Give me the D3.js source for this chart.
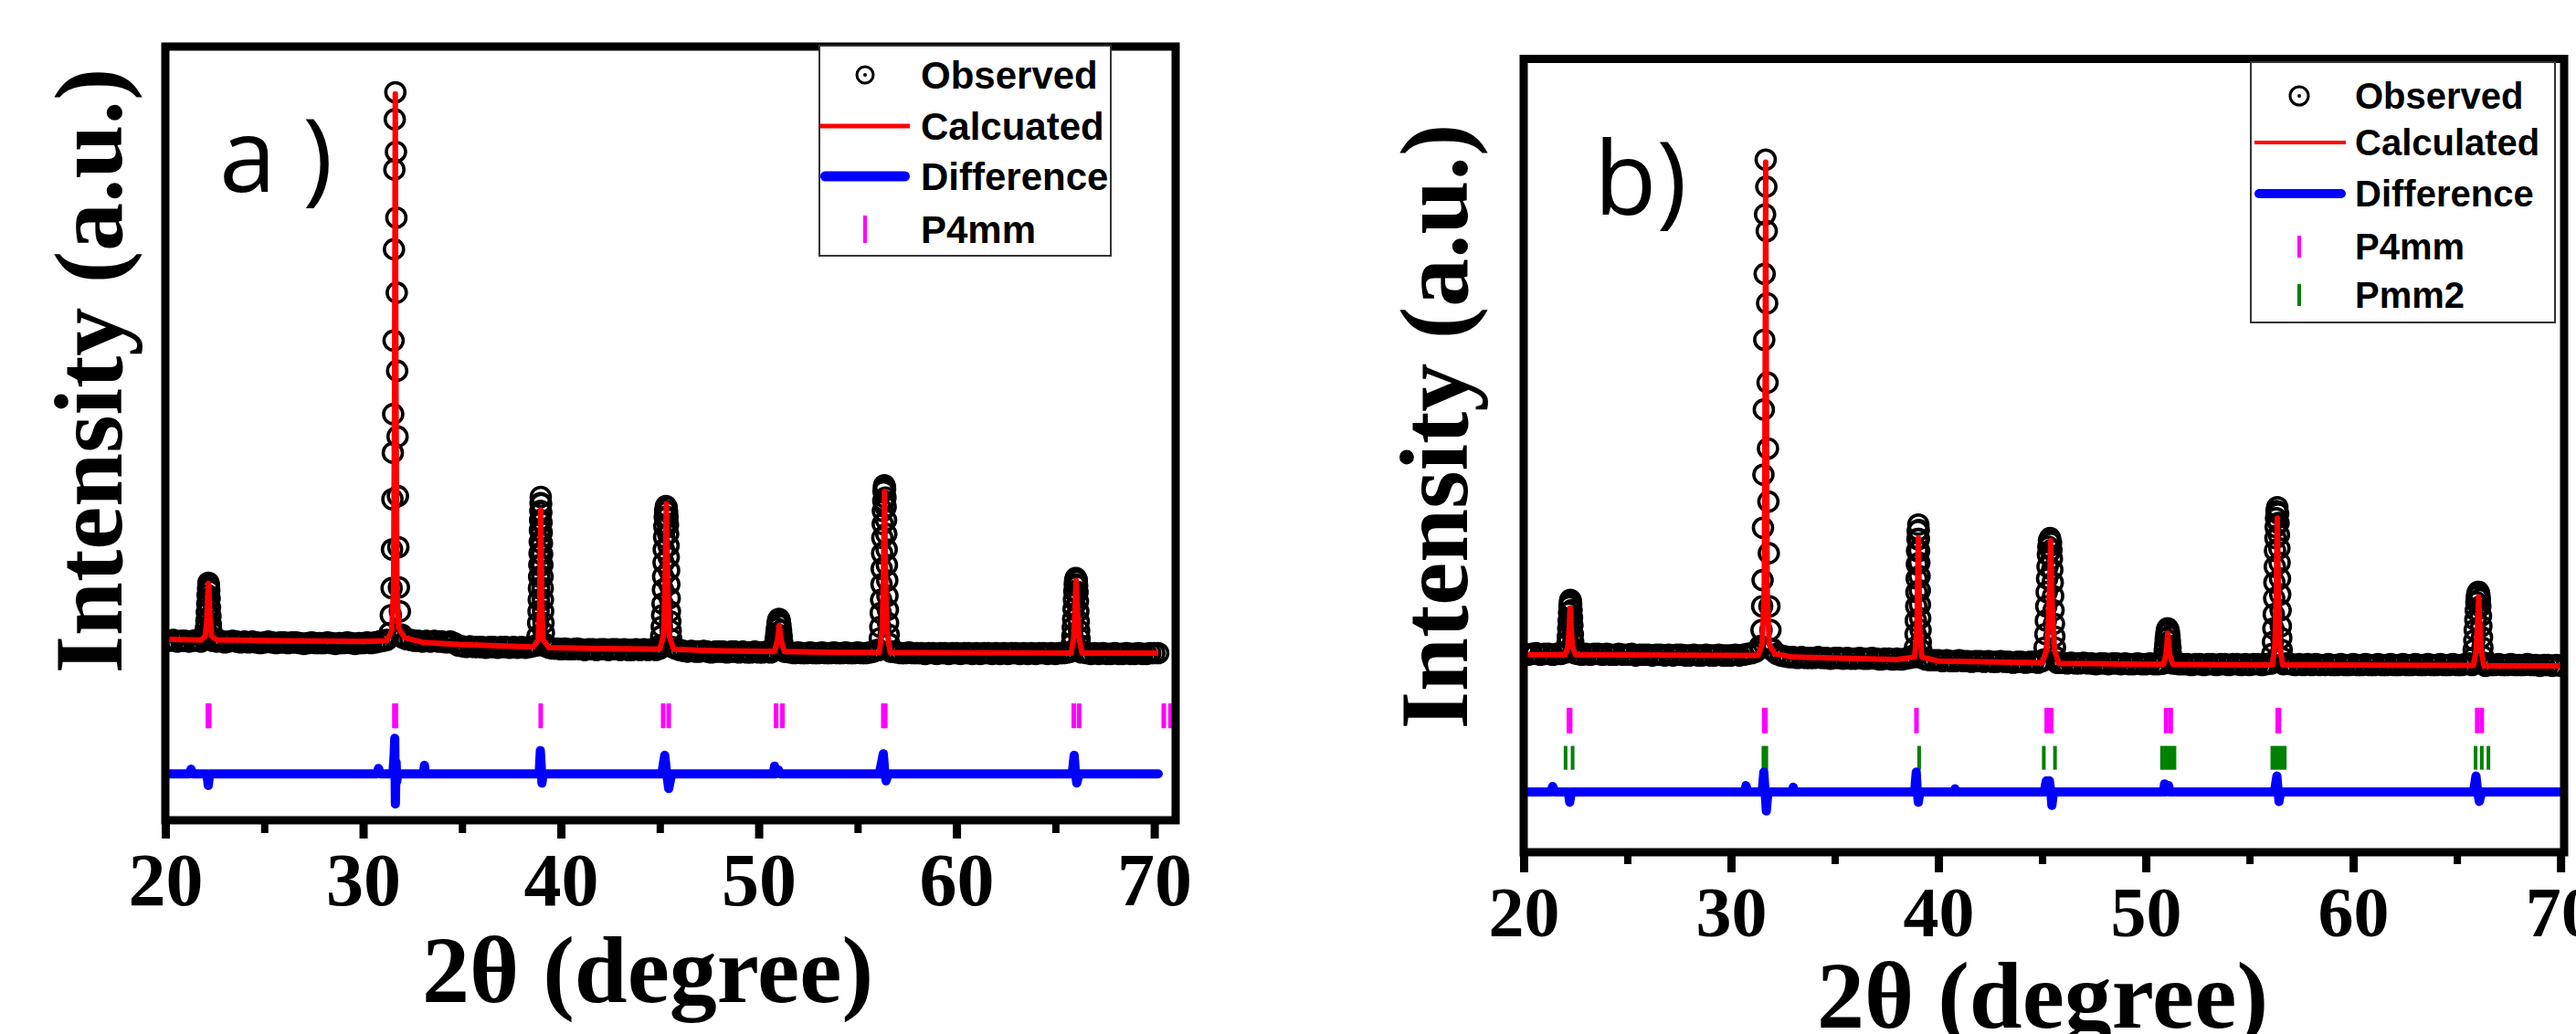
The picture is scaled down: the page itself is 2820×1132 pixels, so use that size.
<!DOCTYPE html>
<html lang="en">
<head>
<meta charset="utf-8">
<title>Rietveld refinement, P4mm / Pmm2</title>
<script src="https://d3js.org/d3.v7.min.js"></script>
<style>
  body { margin: 0; background: #fff; }
  svg { display: block; }
</style>
</head>
<body>
<script>
// ---------- data (intensity in a.u., 0-100 = frame height) ----------
var scanStart = 20.0, scanStep = 0.2;          // observed scan grid away from the peaks
var xTicks = [20, 30, 40, 50, 60, 70];
var xMinorTicks = [25, 35, 45, 55, 65];
var legendA = ["Observed", "Calcuated", "Difference", "P4mm"];
var legendB = ["Observed", "Calculated", "Difference", "P4mm", "Pmm2"];

// panel a) observed background, 20.0 .. 70.2
var obsBgA = [
  23.3,23.2,23.3,23.1,23.2,23.2,23.1,23.2,23.3,23.1,
  23.2,23.2,23.2,23.1,23.2,23.0,23.1,23.2,23.1,23.0,
  23.1,23.0,23.1,23.0,22.9,23.0,23.1,23.0,22.9,23.0,
  23.0,22.9,23.0,23.0,22.9,22.8,22.9,23.0,22.9,22.9,
  22.9,23.0,22.9,22.8,22.9,22.9,23.0,22.9,22.8,22.9,
  22.9,23.0,22.9,23.0,23.1,23.2,23.3,23.6,23.6,23.6,
  23.6,23.4,23.3,23.2,23.2,23.1,23.2,23.1,23.2,23.1,
  23.1,23.0,23.1,22.9,22.6,22.5,22.4,22.5,22.4,22.4,
  22.4,22.3,22.4,22.4,22.3,22.4,22.4,22.3,22.4,22.3,
  22.4,22.3,22.4,22.5,22.6,22.6,22.5,22.3,22.2,22.2,
  22.1,22.2,22.1,22.1,22.2,22.1,22.0,22.1,22.1,22.0,
  22.1,22.1,22.0,22.1,22.1,22.0,22.1,22.0,22.0,22.1,
  22.0,22.1,22.0,22.1,22.0,22.2,22.5,22.5,22.5,22.2,
  22.0,21.9,21.8,21.9,21.8,21.8,21.9,21.8,21.7,21.8,
  21.8,21.8,21.7,21.8,21.8,21.7,21.8,21.7,21.7,21.8,
  21.7,21.7,21.8,21.7,21.9,22.0,22.0,21.8,21.7,21.6,
  21.7,21.6,21.6,21.7,21.6,21.6,21.7,21.6,21.6,21.7,
  21.6,21.6,21.7,21.6,21.6,21.7,21.6,21.6,21.7,21.8,
  22.0,22.0,22.0,22.0,21.8,21.7,21.6,21.6,21.7,21.6,
  21.6,21.6,21.5,21.6,21.6,21.5,21.6,21.6,21.5,21.6,
  21.6,21.5,21.6,21.6,21.5,21.6,21.5,21.6,21.6,21.5,
  21.6,21.5,21.6,21.5,21.6,21.6,21.5,21.6,21.5,21.6,
  21.5,21.6,21.6,21.5,21.6,21.5,21.6,21.6,21.7,21.9,
  22.0,22.0,21.8,21.6,21.5,21.6,21.5,21.6,21.5,21.5,
  21.6,21.5,21.5,21.6,21.5,21.5,21.6,21.5,21.5,21.6,
  21.6,21.6
];
// panel a) observed points on each peak [2theta, I]
var obsPeaksA = [
  [[21.98,23.4],[22.02,24.0],[22.05,24.8],[22.08,25.8],[22.10,26.9],[22.12,28.0],[22.14,29.1],[22.16,30.0],[22.18,30.7],[22.20,30.4],[22.22,29.7],
   [22.24,28.7],[22.26,27.5],[22.28,26.4],[22.30,25.3],[22.33,24.4],[22.37,23.6]],
  [[31.34,24.2],[31.40,26.5],[31.44,30.0],[31.46,35.0],[31.48,41.5],[31.50,47.5],[31.52,52.5],[31.54,62.0],[31.56,73.8],[31.58,84.1],[31.60,90.6],[31.63,94.1],
   [31.66,86.4],[31.68,77.9],[31.70,68.2],[31.72,58.1],[31.74,49.6],[31.76,41.9],[31.78,35.3],[31.81,30.1],[31.86,27.0],[31.95,24.0]],
  [[38.78,22.6],[38.82,23.8],[38.85,25.5],[38.87,27.0],[38.88,28.5],[38.89,30.0],[38.90,31.5],[38.91,33.0],[38.92,34.5],[38.93,36.0],[38.94,37.5],[38.95,38.8],
   [38.96,40.0],[38.97,41.0],[38.98,41.8],[39.00,40.9],[39.01,39.8],[39.02,38.5],[39.03,37.2],[39.04,35.8],[39.05,34.4],[39.06,33.0],[39.07,31.5],[39.08,30.0],
   [39.09,28.5],[39.10,27.0],[39.12,25.5],[39.14,24.2],[39.18,22.8]],
  [[45.03,22.6],[45.07,23.8],[45.10,25.0],[45.12,26.5],[45.14,28.0],[45.16,29.8],[45.17,31.5],[45.19,33.3],[45.20,35.0],[45.22,36.6],[45.23,38.0],[45.25,39.2],
   [45.27,40.0],[45.31,40.6],[45.35,40.4],[45.37,39.9],[45.39,39.2],[45.41,38.2],[45.42,37.0],[45.44,35.5],[45.45,34.0],[45.47,32.3],[45.48,30.5],[45.50,28.7],
   [45.51,27.0],[45.53,25.7],[45.55,24.5],[45.58,23.4],[45.63,22.4]],
  [[50.76,21.9],[50.82,22.6],[50.86,23.4],[50.89,24.1],[50.92,24.8],[50.95,25.4],[50.98,25.8],[51.01,26.0],[51.04,26.0],[51.07,25.7],[51.10,25.2],
   [51.13,24.5],[51.16,23.8],[51.19,23.0],[51.23,22.3],[51.29,21.8]],
  [[56.08,22.0],[56.12,23.5],[56.15,25.0],[56.17,26.8],[56.19,28.5],[56.21,30.5],[56.22,32.5],[56.24,34.5],[56.25,36.5],[56.27,38.3],[56.28,40.0],[56.30,41.3],
   [56.31,42.5],[56.33,43.1],[56.35,43.3],[56.37,43.2],[56.39,42.8],[56.41,41.7],[56.42,40.5],[56.44,38.8],[56.45,37.0],[56.47,35.0],[56.48,33.0],[56.50,31.0],
   [56.51,29.0],[56.53,27.2],[56.54,25.5],[56.57,24.0],[56.60,22.8],[56.66,21.8]],
  [[65.78,21.8],[65.83,22.8],[65.86,23.8],[65.88,24.9],[65.90,26.0],[65.92,27.3],[65.94,28.5],[65.96,29.6],[65.98,30.5],[66.00,31.0],[66.03,31.3],[66.06,31.2],
   [66.08,31.0],[66.10,30.3],[66.12,29.5],[66.14,28.3],[66.16,27.0],[66.18,25.7],[66.20,24.5],[66.22,23.5],[66.25,22.6],[66.32,21.7]]
];
var calcA = [
  [20.0,23.4],[21.8,23.3],[22.02,23.8],[22.1,26.0],[22.15,29.5],[22.18,30.6],[22.21,29.5],[22.26,26.0],[22.34,23.8],[22.6,23.3],
  [26.0,23.2],[30.0,23.1],[31.2,23.2],[31.45,24.5],[31.54,30.0],[31.59,55.0],[31.625,93.9],[31.66,55.0],[31.71,30.0],[31.8,24.8],[32.1,23.6],
  [33.0,23.0],[35.0,22.7],[38.6,22.4],[38.85,23.3],[38.93,28.0],[38.98,40.1],[39.03,28.0],[39.1,23.3],[39.4,22.3],
  [42.0,22.2],[45.0,22.1],[45.18,23.8],[45.26,30.0],[45.33,40.9],[45.4,30.0],[45.48,23.8],[45.7,22.1],
  [48.0,21.9],[50.8,21.8],[50.95,23.3],[51.04,25.2],[51.13,23.3],[51.3,21.8],
  [54.0,21.7],[56.1,21.7],[56.24,24.5],[56.31,32.0],[56.36,42.5],[56.41,32.0],[56.48,24.5],[56.65,21.7],
  [60.0,21.65],[65.8,21.6],[65.93,23.8],[66.0,28.0],[66.05,31.0],[66.1,28.0],[66.18,23.8],[66.35,21.6],[70.2,21.6]
];
var diffA = [
  [20.0,6.0],[21.2,6.0],[21.3,6.6],[21.4,6.0],[22.1,6.0],[22.17,4.5],[22.24,6.0],
  [30.7,6.0],[30.78,6.7],[30.86,6.0],[31.5,6.0],[31.56,8.0],[31.6,10.6],[31.63,2.1],[31.67,7.5],[31.7,5.0],[31.75,6.0],
  [33.05,6.0],[33.1,7.1],[33.15,6.0],
  [38.9,6.0],[38.96,9.0],[39.0,7.2],[39.04,4.8],[39.1,6.0],
  [45.1,6.0],[45.25,8.4],[45.35,6.0],[45.45,4.1],[45.6,6.0],
  [50.75,6.0],[50.8,7.0],[50.85,6.0],[51.0,6.5],[51.1,6.0],
  [56.1,6.0],[56.3,8.6],[56.38,6.0],[56.44,5.1],[56.55,6.0],
  [65.85,6.0],[65.95,8.4],[66.02,6.0],[66.08,4.8],[66.2,6.0],[70.2,6.0]
];
var p4mmA = [22.15,22.22,31.58,31.66,38.98,45.17,45.45,50.88,51.2,56.3,56.4,65.93,66.2,70.48,70.82];

// panel b) observed background, 20.0 .. 70.0
var obsBgB = [
  25.0,24.9,25.0,25.1,24.9,25.0,25.0,24.9,25.0,25.0,
  25.2,25.5,25.2,25.0,24.9,25.0,24.9,25.0,25.0,24.9,
  25.0,24.9,24.9,25.0,24.9,24.9,25.0,24.8,24.9,24.9,
  24.9,24.8,24.9,24.9,24.8,24.9,24.8,24.9,24.9,24.8,
  24.8,24.9,24.8,24.8,24.9,24.8,24.8,24.9,24.8,24.8,
  24.8,24.9,24.8,24.9,25.0,25.1,25.3,26.0,26.0,26.0,
  25.6,25.0,24.8,24.7,24.6,24.6,24.5,24.6,24.5,24.5,
  24.5,24.6,24.5,24.5,24.4,24.5,24.5,24.4,24.5,24.4,
  24.4,24.5,24.4,24.4,24.5,24.4,24.3,24.4,24.4,24.3,
  24.4,24.3,24.4,24.5,24.8,25.0,24.6,24.3,24.2,24.2,
  24.2,24.1,24.2,24.1,24.1,24.2,24.1,24.1,24.0,24.1,
  24.1,24.0,24.1,24.0,24.0,24.1,24.0,24.0,23.9,24.0,
  24.0,23.9,24.0,24.0,23.9,24.1,24.5,24.5,24.5,23.9,
  23.9,23.8,23.9,23.8,23.8,23.9,23.8,23.8,23.7,23.8,
  23.8,23.7,23.8,23.8,23.7,23.8,23.7,23.7,23.8,23.7,
  23.7,23.8,23.7,23.7,23.8,24.0,24.0,23.8,23.7,23.7,
  23.7,23.6,23.7,23.7,23.6,23.7,23.7,23.6,23.7,23.7,
  23.6,23.7,23.7,23.6,23.7,23.6,23.7,23.7,23.6,23.7,
  23.8,24.0,24.0,24.0,23.8,23.7,23.6,23.7,23.6,23.7,
  23.6,23.7,23.6,23.6,23.7,23.6,23.6,23.7,23.6,23.6,
  23.7,23.6,23.6,23.7,23.6,23.6,23.7,23.6,23.6,23.7,
  23.6,23.6,23.7,23.6,23.6,23.7,23.6,23.6,23.7,23.6,
  23.6,23.7,23.6,23.6,23.7,23.6,23.6,23.7,23.8,24.0,
  24.0,24.0,23.7,23.6,23.6,23.7,23.6,23.6,23.7,23.6,
  23.6,23.6,23.7,23.6,23.6,23.5,23.6,23.6,23.5,23.6,
  23.5
];
var obsPeaksB = [
  [[22.06,25.2],[22.10,26.2],[22.13,27.2],[22.15,28.2],[22.17,29.2],[22.19,30.2],[22.21,31.0],[22.23,31.5],[22.25,31.8],[22.27,31.7],[22.29,31.3],
   [22.31,30.5],[22.33,29.6],[22.35,28.6],[22.37,27.5],[22.39,26.5],[22.42,25.6],[22.46,25.1]],
  [[31.42,25.8],[31.47,28.0],[31.50,31.0],[31.52,34.3],[31.54,40.9],[31.56,47.6],[31.58,55.8],[31.60,64.6],[31.62,72.9],[31.64,80.4],[31.67,87.3],
   [31.70,83.9],[31.72,78.3],[31.74,69.2],[31.76,59.2],[31.78,50.9],[31.80,44.2],[31.82,37.7],[31.85,31.0],[31.90,28.0],[31.97,25.5]],
  [[38.84,24.6],[38.87,25.8],[38.90,27.5],[38.91,29.2],[38.93,31.0],[38.94,32.8],[38.95,34.5],[38.96,36.3],[38.97,38.0],[38.99,39.5],[39.00,40.5],[39.03,41.3],
   [39.05,40.6],[39.06,39.5],[39.07,38.0],[39.08,36.5],[39.09,34.8],[39.10,33.0],[39.11,31.2],[39.12,29.5],[39.14,28.0],[39.15,26.5],[39.17,25.5],[39.21,24.5]],
  [[45.08,24.3],[45.12,25.8],[45.16,27.5],[45.18,29.2],[45.20,31.0],[45.22,32.8],[45.24,34.5],[45.26,36.0],[45.28,37.5],[45.30,38.5],[45.33,39.3],[45.38,39.6],
   [45.43,39.0],[45.45,38.1],[45.47,37.0],[45.49,35.6],[45.51,34.0],[45.53,32.3],[45.55,30.5],[45.57,28.8],[45.59,27.2],[45.62,25.8],[45.65,24.6],[45.72,23.9]],
  [[50.83,23.8],[50.88,24.6],[50.91,25.4],[50.94,26.2],[50.96,26.9],[50.99,27.5],[51.01,27.9],[51.04,28.2],[51.06,28.2],[51.09,28.0],[51.11,27.8],
   [51.14,27.2],[51.16,26.6],[51.19,25.8],[51.21,25.0],[51.24,24.3],[51.29,23.8]],
  [[56.06,23.8],[56.10,25.0],[56.13,26.5],[56.15,28.2],[56.17,30.0],[56.19,32.0],[56.20,34.0],[56.22,36.0],[56.23,38.0],[56.25,39.6],[56.26,41.0],[56.28,42.1],
   [56.30,43.0],[56.34,43.5],[56.38,42.7],[56.40,41.5],[56.42,40.0],[56.44,38.3],[56.45,36.5],[56.47,34.5],[56.48,32.5],[56.50,30.5],[56.51,28.5],[56.53,27.0],
   [56.55,25.5],[56.58,24.5],[56.63,23.7]],
  [[65.73,23.6],[65.78,24.5],[65.81,25.5],[65.84,26.7],[65.86,28.0],[65.89,29.3],[65.91,30.5],[65.94,31.5],[65.96,32.2],[65.99,32.6],[66.02,32.8],[66.05,32.8],
   [66.08,32.5],[66.11,31.9],[66.13,31.0],[66.16,29.8],[66.18,28.5],[66.21,27.1],[66.23,25.8],[66.26,24.7],[66.30,23.9],[66.37,23.5]]
];
var calcB = [
  [20.0,24.9],[22.0,24.9],[22.12,25.8],[22.19,28.0],[22.24,30.8],[22.29,28.0],[22.36,25.8],[22.5,24.9],
  [30.0,24.8],[31.3,24.8],[31.5,26.2],[31.6,33.0],[31.645,60.0],[31.67,87.0],[31.70,60.0],[31.74,33.0],[31.84,26.2],[32.1,25.0],
  [33.0,24.6],[38.0,24.3],[38.85,24.6],[38.96,28.0],[39.03,39.6],[39.1,28.0],[39.2,24.6],
  [40.0,24.1],[45.0,23.9],[45.22,25.5],[45.33,30.5],[45.41,39.3],[45.49,30.5],[45.6,25.5],[45.8,23.8],
  [50.0,23.7],[50.85,23.7],[50.98,25.0],[51.06,27.6],[51.14,25.0],[51.3,23.7],
  [56.1,23.6],[56.22,26.0],[56.29,33.0],[56.34,42.1],[56.39,33.0],[56.46,26.0],[56.6,23.6],
  [65.8,23.55],[65.93,25.5],[66.0,29.0],[66.05,32.2],[66.1,29.0],[66.17,25.5],[66.3,23.5],[70.15,23.5]
];
var diffB = [
  [20.0,7.6],[21.3,7.6],[21.4,8.3],[21.5,7.6],[22.15,7.6],[22.22,6.3],[22.3,7.6],
  [30.65,7.6],[30.72,8.4],[30.8,7.6],[31.5,7.6],[31.58,10.1],[31.64,7.6],[31.7,5.2],[31.78,7.6],
  [32.95,7.6],[33.0,8.2],[33.05,7.6],
  [38.85,7.6],[38.93,10.1],[38.98,7.6],[39.03,6.3],[39.1,7.6],[40.75,7.6],[40.8,8.0],[40.85,7.6],
  [45.1,7.6],[45.2,9.0],[45.28,8.3],[45.35,9.0],[45.42,7.6],[45.47,5.9],[45.55,7.6],
  [50.85,7.6],[50.9,8.6],[50.95,7.6],[51.1,8.4],[51.15,7.6],
  [56.2,7.6],[56.32,9.6],[56.38,7.6],[56.42,6.4],[56.5,7.6],
  [65.8,7.6],[65.92,9.6],[66.0,7.6],[66.08,6.4],[66.2,7.6],[70.15,7.6]
];
var p4mmB = [22.18,22.24,31.6,31.66,38.94,45.22,45.44,50.98,51.2,56.36,56.42,65.98,66.2];
var pmm2B = [22.02,22.36,31.56,31.7,39.07,45.08,45.62,50.78,50.93,51.08,51.23,51.38,56.1,56.25,56.4,56.55,56.7,65.9,66.2,66.52];

// ---------- drawing ----------
var W = 2820, H = 1132;
var svg = d3.select("body").append("svg").attr("width", W).attr("height", H);
svg.append("rect").attr("width", W).attr("height", H).attr("fill", "#fff");

var serif = "'Liberation Serif', 'Times New Roman', serif";
var sans = "'Liberation Sans', Arial, sans-serif";

var panels = [
  { id: "a", label: "a )", labelX: 240, labelY: 210,
    xDomain: [20, 71.08], xRange: [181, 1287], yRange: [898, 51],
    obsBg: obsBgA, obsPeaks: obsPeaksA, calc: calcA, diff: diffA,
    refl: [{ pos: p4mmA, color: "#ff00ff", w: 5, y0: 11.9, y1: 15.1 }],
    tickMajor: 20, tickMinor: 14, tickFont: 82, tickLabelY: 93,
    titleX: 709, titleY: 1097, yTitleX: 133, yTitleY: 406,
    legend: { labels: legendA, x: 897, y: 50, w: 319, h: 230, rows: [82, 138, 193, 251],
              symX: 947, textX: 1008, lx1: 898, lx2: 996, font: 42, r: 9, red: 5, blue: 11, tick: 30 } },
  { id: "b", label: "b)", labelX: 1745, labelY: 235,
    xDomain: [20, 70.17], xRange: [1668, 2807], yRange: [933, 64.5],
    obsBg: obsBgB, obsPeaks: obsPeaksB, calc: calcB, diff: diffB,
    refl: [{ pos: p4mmB, color: "#ff00ff", w: 5, y0: 15.0, y1: 18.2 },
           { pos: pmm2B, color: "#008000", w: 4, y0: 10.4, y1: 13.4 }],
    tickMajor: 22, tickMinor: 13, tickFont: 78, tickLabelY: 92,
    titleX: 2236, titleY: 1125, yTitleX: 1606, yTitleY: 467,
    legend: { labels: legendB, x: 2464, y: 68, w: 333, h: 285, rows: [105, 156, 212, 270, 323],
              symX: 2517, textX: 2578, lx1: 2468, lx2: 2568, font: 40, r: 10, red: 4, blue: 10, tick: 24 } }
];

panels.forEach(drawPanel);

function drawPanel(p) {
  var x = d3.scaleLinear().domain(p.xDomain).range(p.xRange);
  var y = d3.scaleLinear().domain([0, 100]).range(p.yRange);
  var g = svg.append("g");

  var clipId = "clip-" + p.id;
  g.append("clipPath").attr("id", clipId).append("rect")
    .attr("x", p.xRange[0]).attr("y", p.yRange[1])
    .attr("width", p.xRange[1] - p.xRange[0]).attr("height", p.yRange[0] - p.yRange[1]);
  var plot = g.append("g").attr("clip-path", "url(#" + clipId + ")");

  // observed: grid points outside the peaks + the points read on each peak
  var windows = p.obsPeaks.map(function(pk) { return [pk[0][0], pk[pk.length - 1][0]]; });
  var obs = p.obsBg.map(function(v, i) { return [scanStart + i * scanStep, v]; })
    .filter(function(d) { return !windows.some(function(w) { return d[0] > w[0] && d[0] < w[1]; }); });
  p.obsPeaks.forEach(function(pk) { obs = obs.concat(pk); });

  plot.selectAll("circle.obs").data(obs).enter().append("circle")
    .attr("class", "obs")
    .attr("cx", function(d) { return x(d[0]); })
    .attr("cy", function(d) { return y(d[1]); })
    .attr("r", 10.5)
    .attr("fill", "none")
    .attr("stroke", "#000")
    .attr("stroke-width", 3.6);

  var line = d3.line().x(function(d) { return x(d[0]); }).y(function(d) { return y(d[1]); });

  plot.append("path").datum(p.calc)
    .attr("d", line).attr("fill", "none")
    .attr("stroke", "#ff0000").attr("stroke-width", 6).attr("stroke-linejoin", "round");

  // Bragg reflection markers
  p.refl.forEach(function(r) {
    plot.selectAll(null).data(r.pos).enter().append("rect")
      .attr("x", function(d) { return x(d) - r.w / 2; })
      .attr("y", y(r.y1))
      .attr("width", r.w)
      .attr("height", y(r.y0) - y(r.y1))
      .attr("fill", r.color);
  });

  plot.append("path").datum(p.diff)
    .attr("d", line).attr("fill", "none")
    .attr("stroke", "#0000ff").attr("stroke-width", 10)
    .attr("stroke-linejoin", "round").attr("stroke-linecap", "round");

  // frame
  g.append("rect")
    .attr("x", p.xRange[0]).attr("y", p.yRange[1])
    .attr("width", p.xRange[1] - p.xRange[0]).attr("height", p.yRange[0] - p.yRange[1])
    .attr("fill", "none").attr("stroke", "#000").attr("stroke-width", 9);

  // x axis, major and minor ticks
  var ax = g.append("g").attr("transform", "translate(0," + p.yRange[0] + ")")
    .call(d3.axisBottom(x).tickValues(xTicks).tickSize(p.tickMajor).tickFormat(d3.format("d")));
  ax.select(".domain").remove();
  ax.selectAll("line").attr("stroke", "#000").attr("stroke-width", 9);
  ax.selectAll("text")
    .attr("y", p.tickLabelY).attr("dy", 0)
    .attr("fill", "#000")
    .style("font-family", serif).style("font-weight", "bold").style("font-size", p.tickFont + "px");

  var axm = g.append("g").attr("transform", "translate(0," + p.yRange[0] + ")")
    .call(d3.axisBottom(x).tickValues(xMinorTicks).tickSize(p.tickMinor).tickFormat(""));
  axm.select(".domain").remove();
  axm.selectAll("line").attr("stroke", "#000").attr("stroke-width", 8);

  // titles
  g.append("text")
    .attr("x", p.titleX).attr("y", p.titleY)
    .attr("text-anchor", "middle")
    .style("font-family", serif).style("font-weight", "bold").style("font-size", "104px")
    .text("2\u03b8 (degree)");

  g.append("text")
    .attr("transform", "translate(" + p.yTitleX + "," + p.yTitleY + ") rotate(-90)")
    .attr("text-anchor", "middle")
    .style("font-family", serif).style("font-weight", "bold").style("font-size", "106px")
    .text("Intensity (a.u.)");

  g.append("text")
    .attr("x", p.labelX).attr("y", p.labelY)
    .style("font-family", "'Open Sans', 'Noto Sans', sans-serif").style("font-size", "112px")
    .text(p.label);

  drawLegend(g, p.legend);
}

function drawLegend(g, L) {
  var lg = g.append("g");
  lg.append("rect")
    .attr("x", L.x).attr("y", L.y).attr("width", L.w).attr("height", L.h)
    .attr("fill", "#fff").attr("stroke", "#333").attr("stroke-width", 2);

  // observed marker
  lg.append("circle").attr("cx", L.symX).attr("cy", L.rows[0]).attr("r", L.r)
    .attr("fill", "none").attr("stroke", "#000").attr("stroke-width", 3);
  lg.append("circle").attr("cx", L.symX).attr("cy", L.rows[0]).attr("r", 2).attr("fill", "#000");
  // calculated
  lg.append("line").attr("x1", L.lx1).attr("x2", L.lx2).attr("y1", L.rows[1]).attr("y2", L.rows[1])
    .attr("stroke", "#ff0000").attr("stroke-width", L.red);
  // difference
  lg.append("line").attr("x1", L.lx1 + L.blue / 2).attr("x2", L.lx2 - L.blue / 2)
    .attr("y1", L.rows[2]).attr("y2", L.rows[2])
    .attr("stroke", "#0000ff").attr("stroke-width", L.blue).attr("stroke-linecap", "round");
  // phases
  var phaseColors = ["#ff00ff", "#008000"];
  L.rows.slice(3).forEach(function(ry, i) {
    lg.append("rect").attr("x", L.symX - 2).attr("y", ry - L.tick / 2)
      .attr("width", 4).attr("height", L.tick).attr("fill", phaseColors[i]);
  });

  lg.selectAll("text.leg").data(L.labels).enter().append("text")
    .attr("class", "leg")
    .attr("x", L.textX)
    .attr("y", function(d, i) { return L.rows[i]; })
    .attr("dy", "0.36em")
    .style("font-family", sans).style("font-weight", "bold").style("font-size", L.font + "px")
    .text(function(d) { return d; });
}
</script>
</body>
</html>
